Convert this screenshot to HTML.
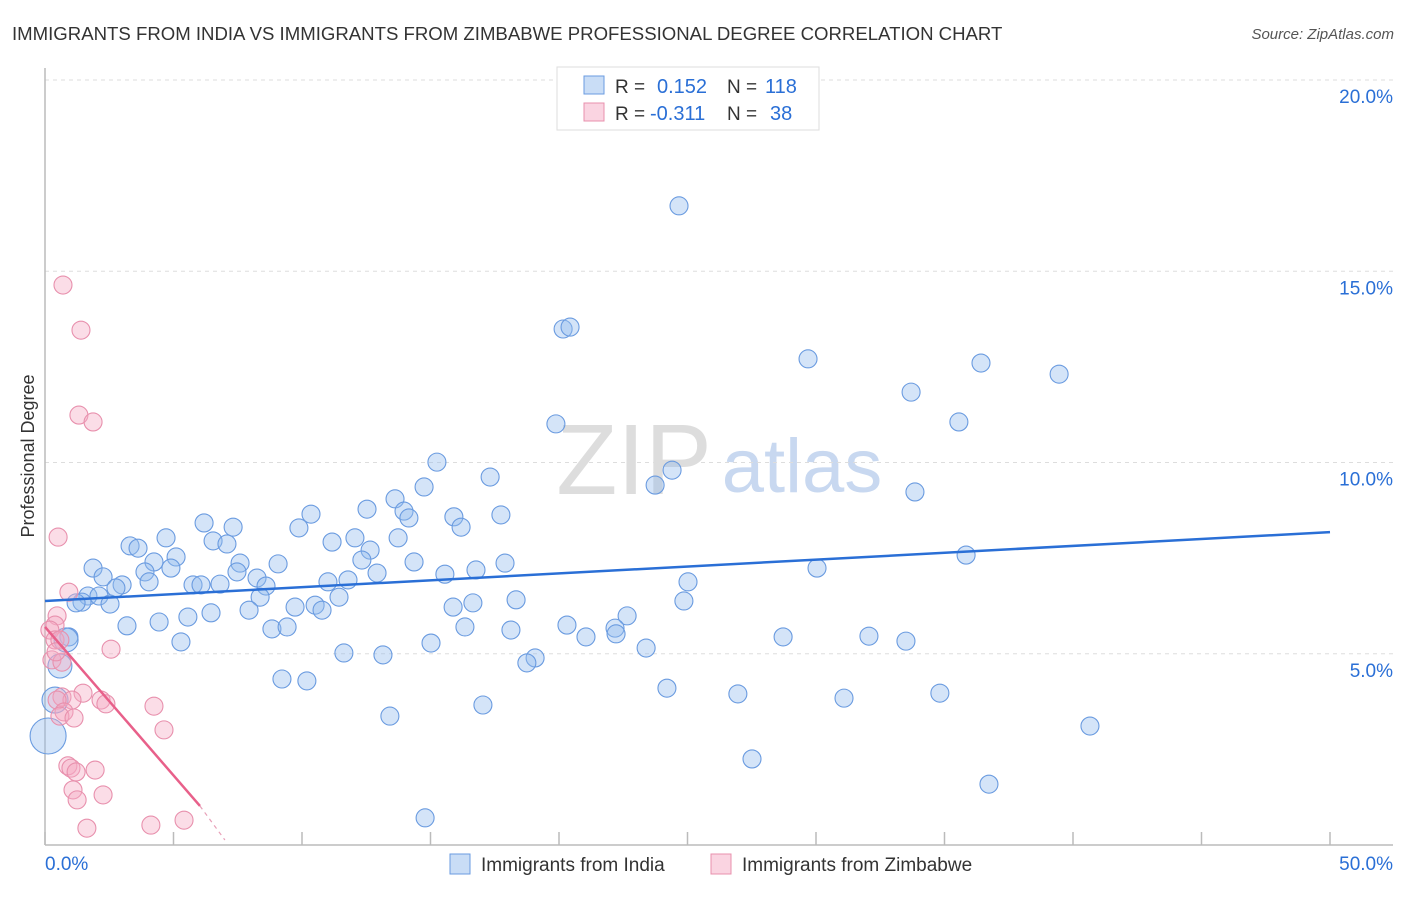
<!DOCTYPE html>
<html><head><meta charset="utf-8"><style>
body{margin:0;background:#fff;font-family:"Liberation Sans",sans-serif}
svg text{font-family:"Liberation Sans",sans-serif}
</style></head><body>
<svg width="1406" height="892" xmlns="http://www.w3.org/2000/svg">
<text x="12" y="40" font-size="18.6" fill="#333">IMMIGRANTS FROM INDIA VS IMMIGRANTS FROM ZIMBABWE PROFESSIONAL DEGREE CORRELATION CHART</text>
<text x="1394" y="39" font-size="15" fill="#555" text-anchor="end" font-style="italic">Source: ZipAtlas.com</text>
<text x="634" y="494" font-size="100" fill="#ddd" font-family="Liberation Serif" text-anchor="middle">ZIP</text>
<text x="802" y="492" font-size="76" fill="#c8d8f0" text-anchor="middle">atlas</text>
<g id="grid"></g>
<g id="axes"></g>
<g id="marks"></g>
<text transform="translate(34,456) rotate(-90)" font-size="18" fill="#333" text-anchor="middle">Professional Degree</text>
<g>
<rect x="557" y="67" width="262" height="63" fill="#fff" stroke="#ddd"/>
<rect x="584" y="76" width="20" height="18" fill="rgba(147,187,237,0.5)" stroke="#6a9be0"/>
<rect x="584" y="103" width="20" height="18" fill="rgba(245,170,195,0.5)" stroke="#e890ad"/>
<text x="615" y="93" font-size="19" fill="#333">R = </text><text x="657" y="93" font-size="20" fill="#2a6fd6">0.152</text>
<text x="727" y="93" font-size="19" fill="#333">N = </text><text x="765" y="93" font-size="20" fill="#2a6fd6">118</text>
<text x="615" y="120" font-size="19" fill="#333">R = </text><text x="650" y="120" font-size="20" fill="#2a6fd6">-0.311</text>
<text x="727" y="120" font-size="19" fill="#333">N = </text><text x="770" y="120" font-size="20" fill="#2a6fd6">38</text>
</g>
<g>
<rect x="450" y="854" width="20" height="20" fill="rgba(147,187,237,0.5)" stroke="#6a9be0"/>
<text x="481" y="871" font-size="19" fill="#333">Immigrants from India</text>
<rect x="711" y="854" width="20" height="20" fill="rgba(245,170,195,0.5)" stroke="#e890ad"/>
<text x="742" y="871" font-size="19" fill="#333">Immigrants from Zimbabwe</text>
</g>
</svg>
<script>
const xTicks=[0,5,10,15,20,25,30,35,40,45,50];
const yTicks=[5,10,15,20];
const yTickLabels=["5.0%","10.0%","15.0%","20.0%"];
const indiaX=[24.67,20.16,20.43,29.69,36.42,39.46,33.70,35.56,19.88,15.25,24.40,17.32,23.74,14.75,33.85,13.62,12.53,10.35,13.97,15.91,14.16,17.74,16.19,6.19,7.32,9.88,4.71,6.54,7.08,12.06,13.74,11.17,3.31,3.62,12.65,5.10,7.59,4.24,12.33,14.36,9.07,1.87,3.89,4.90,17.90,30.04,35.84,7.47,2.26,15.56,16.77,12.92,8.25,11.79,11.01,25.02,3.00,4.05,5.76,6.07,6.81,8.60,2.76,1.67,2.10,8.37,1.44,11.44,2.53,1.21,9.73,10.51,10.78,18.33,24.86,15.88,16.65,7.94,5.56,6.46,22.65,3.19,4.44,20.31,8.83,9.42,16.34,22.18,18.13,22.22,21.05,28.72,32.06,33.50,5.29,15.02,0.93,0.82,23.39,11.63,13.15,19.07,18.75,0.58,9.22,10.19,24.20,26.96,31.09,34.82,17.04,13.42,40.66,27.51,36.73,14.79,0.39,0.12];
const indiaY=[16.71,13.49,13.54,12.71,12.60,12.31,11.84,11.06,11.01,10.01,9.80,9.62,9.41,9.36,9.23,9.05,8.78,8.65,8.73,8.58,8.55,8.63,8.31,8.42,8.31,8.29,8.03,7.95,7.87,8.03,8.03,7.92,7.82,7.76,7.71,7.53,7.37,7.40,7.45,7.40,7.35,7.24,7.14,7.24,7.37,7.24,7.58,7.14,7.01,7.08,7.19,7.11,6.98,6.93,6.88,6.88,6.80,6.88,6.80,6.80,6.82,6.77,6.72,6.51,6.51,6.48,6.35,6.48,6.30,6.33,6.22,6.27,6.14,6.41,6.38,6.22,6.33,6.14,5.96,6.07,5.99,5.73,5.83,5.75,5.65,5.70,5.70,5.67,5.62,5.52,5.44,5.44,5.46,5.33,5.31,5.28,5.44,5.36,5.15,5.02,4.97,4.89,4.76,4.68,4.34,4.29,4.10,3.95,3.84,3.97,3.66,3.37,3.11,2.25,1.59,0.71,3.79,2.85];
const indiaR=[9,9,9,9,9,9,9,9,9,9,9,9,9,9,9,9,9,9,9,9,9,9,9,9,9,9,9,9,9,9,9,9,9,9,9,9,9,9,9,9,9,9,9,9,9,9,9,9,9,9,9,9,9,9,9,9,9,9,9,9,9,9,9,9,9,9,9,9,9,9,9,9,9,9,9,9,9,9,9,9,9,9,9,9,9,9,9,9,9,9,9,9,9,9,9,9,9,12,9,9,9,9,9,12,9,9,9,9,9,9,9,9,9,9,9,9,13,18];
const zimX=[0.70,1.40,1.32,1.87,0.51,0.93,0.47,0.39,0.19,0.39,0.27,2.57,0.66,0.66,1.48,1.05,0.47,2.18,2.37,4.24,0.74,0.58,1.13,4.63,0.89,1.01,1.21,1.95,1.09,2.26,1.25,1.63,4.12,5.41,0.58,0.43];
const zimY=[14.64,13.46,11.24,11.06,8.05,6.61,5.99,5.75,5.62,5.36,4.84,5.12,4.78,3.87,3.97,3.79,3.79,3.79,3.69,3.63,3.48,3.37,3.32,3.01,2.07,2.01,1.91,1.96,1.44,1.31,1.18,0.44,0.52,0.65,5.36,5.05];
const indiaTrend=[[0,6.38],[50,8.18]];
const zimTrendSolid=[[0,5.70],[6.03,1.02]];
const zimTrendDash=[[6.03,1.02],[7.0,0.13]];
const NS="http://www.w3.org/2000/svg";
const X=v=>45+v*25.7, Y=v=>845-v*38.25;
function mk(t,a,p){const e=document.createElementNS(NS,t);for(const k in a)e.setAttribute(k,a[k]);p.appendChild(e);return e;}
const grid=document.getElementById('grid'),axes=document.getElementById('axes'),marks=document.getElementById('marks');
yTicks.forEach((v,i)=>{const l=mk('line',{x1:45,x2:1393,y1:Y(v),y2:Y(v),stroke:'#ddd','stroke-dasharray':'4,4'},grid);


const t=mk('text',{x:1393,y:Y(v)+23,'font-size':19,fill:'#2a6fd6','text-anchor':'end'},axes);t.textContent=yTickLabels[i];

});
const xa=mk('line',{x1:45,x2:1393,y1:845,y2:845,stroke:'#bbb','stroke-width':1.5},axes);


const ya=mk('line',{x1:45,x2:45,y1:68,y2:845,stroke:'#bbb','stroke-width':1.5},axes);


xTicks.forEach(v=>{const l=mk('line',{x1:X(v),x2:X(v),y1:832,y2:845,stroke:'#bbb','stroke-width':1.5},axes);

});
const t0=mk('text',{x:45,y:870,'font-size':19,fill:'#2a6fd6'},axes);t0.textContent='0.0%';


const t1=mk('text',{x:1393,y:870,'font-size':19,fill:'#2a6fd6','text-anchor':'end'},axes);t1.textContent='50.0%';


indiaX.forEach((v,i)=>{const c=mk('circle',{cx:X(v),cy:Y(indiaY[i]),r:indiaR[i],fill:'rgba(147,187,237,0.4)',stroke:'#6a9be0','stroke-width':1.1},marks);

});
zimX.forEach((v,i)=>{const c=mk('circle',{cx:X(v),cy:Y(zimY[i]),r:9,fill:'rgba(245,170,195,0.4)',stroke:'#e890ad','stroke-width':1.1},marks);

});
const l1=mk('line',{x1:X(indiaTrend[0][0]),y1:Y(indiaTrend[0][1]),x2:X(indiaTrend[1][0]),y2:Y(indiaTrend[1][1]),stroke:'#2a6fd6','stroke-width':2.5},marks);


const l2=mk('line',{x1:X(zimTrendSolid[0][0]),y1:Y(zimTrendSolid[0][1]),x2:X(zimTrendSolid[1][0]),y2:Y(zimTrendSolid[1][1]),stroke:'#e8608a','stroke-width':2.5},marks);


const l3=mk('line',{x1:X(zimTrendDash[0][0]),y1:Y(zimTrendDash[0][1]),x2:X(zimTrendDash[1][0]),y2:Y(zimTrendDash[1][1]),stroke:'#e8a0b8','stroke-width':1.2,'stroke-dasharray':'4,4'},marks);


</script>
</body></html>
